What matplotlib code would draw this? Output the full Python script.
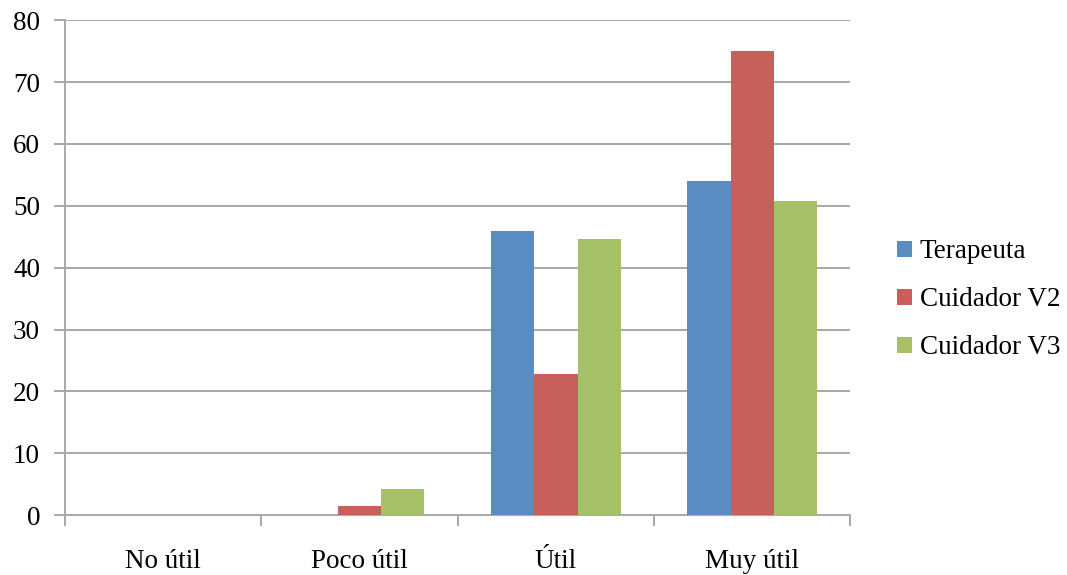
import matplotlib
matplotlib.use("Agg")
import matplotlib.pyplot as plt
import numpy as np

categorias = ["No útil", "Poco útil", "Útil", "Muy útil"]
terapeuta = [0, 0, 46, 54]
cuidador_v2 = [0, 1.5, 22.8, 75]
cuidador_v3 = [0, 4.2, 44.7, 50.8]
series = ["Terapeuta", "Cuidador V2", "Cuidador V3"]
colores = ["#5b8cc1", "#c75f5a", "#a6c067"]

plt.rcParams["font.family"] = ["Liberation Serif", "DejaVu Serif"]

fig = plt.figure(figsize=(10.67, 5.75), dpi=100)
ax = fig.add_axes([0.061, 0.104, 0.736, 0.861])

x = np.arange(len(categorias))
w = 0.22
for i, (vals, nombre, c) in enumerate(zip([terapeuta, cuidador_v2, cuidador_v3], series, colores)):
    ax.bar(x + (i - 1) * w, vals, w, color=c, label=nombre, zorder=3)

ax.set_xlim(-0.5, len(categorias) - 0.5)
ax.set_ylim(0, 80)
ax.set_yticks(range(0, 81, 10))
ax.yaxis.grid(True, color="#a8a8a8", linewidth=1.4, zorder=0)

# category ticks sit on the boundaries, labels in the middle
ax.set_xticks(np.arange(-0.5, len(categorias), 1))
ax.set_xticklabels([])
ax.set_xticks(x, minor=True)
ax.set_xticklabels(categorias, minor=True)
ax.tick_params(axis="x", which="major", length=8, width=1.4, color="#a8a8a8", direction="out")
ax.tick_params(axis="x", which="minor", length=0, pad=24, labelsize=19.5)
ax.tick_params(axis="y", length=8, width=1.4, color="#a8a8a8", labelsize=19.5, pad=10)

for s in ["top", "right"]:
    ax.spines[s].set_visible(False)
for s in ["left", "bottom"]:
    ax.spines[s].set_color("#a8a8a8")
    ax.spines[s].set_linewidth(1.4)

ax.legend(loc="center left", bbox_to_anchor=(1.028, 0.435), frameon=False, fontsize=19.5,
          handlelength=0.55, handleheight=0.55, handletextpad=0.3, labelspacing=0.85)

fig.savefig("out.png", dpi=100)
